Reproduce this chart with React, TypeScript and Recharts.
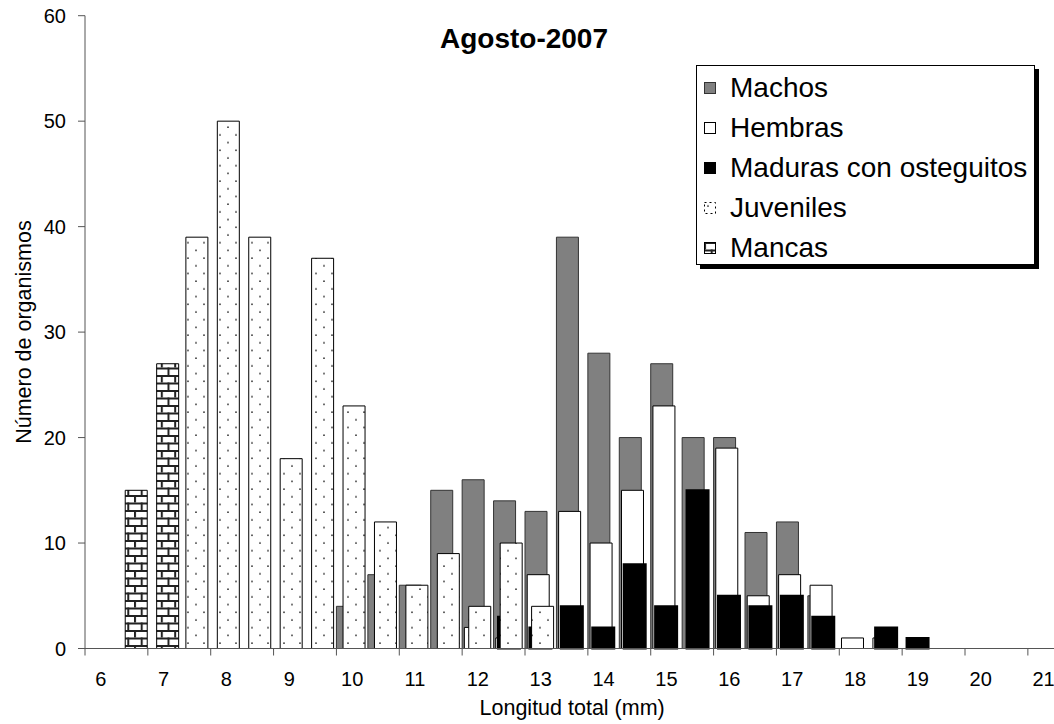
import { Bar, BarChart, Legend, XAxis, YAxis } from 'recharts';

// Length classes (mm), half-millimetre bins
const lengths = [
  '6', '6.5', '7', '7.5', '8', '8.5', '9', '9.5', '10', '10.5', '11', '11.5', '12', '12.5', '13', '13.5',
  '14', '14.5', '15', '15.5', '16', '16.5', '17', '17.5', '18', '18.5', '19', '19.5', '20', '20.5', '21',
];

const machos = [0, 0, 0, 0, 0, 0, 0, 0, 4, 7, 6, 15, 16, 14, 13, 39, 28, 20, 27, 20, 20, 11, 12, 5, 0, 0, 0, 0, 0, 0, 0];
const hembras = [0, 0, 0, 0, 0, 0, 0, 0, 0, 0, 0, 0, 2, 1, 7, 13, 10, 15, 23, 0, 19, 5, 7, 6, 1, 1, 0, 0, 0, 0, 0];
const maduras = [0, 0, 0, 0, 0, 0, 0, 0, 0, 0, 0, 0, 0, 3, 2, 4, 2, 8, 4, 15, 5, 4, 5, 3, 0, 2, 1, 0, 0, 0, 0];
const juveniles = [0, 0, 0, 39, 50, 39, 18, 37, 23, 12, 6, 9, 4, 10, 4, 0, 0, 0, 0, 0, 0, 0, 0, 0, 0, 0, 0, 0, 0, 0, 0];
const mancas = [0, 15, 27, 0, 0, 0, 0, 0, 0, 0, 0, 0, 0, 0, 0, 0, 0, 0, 0, 0, 0, 0, 0, 0, 0, 0, 0, 0, 0, 0, 0];

const yTicks = [0, 10, 20, 30, 40, 50, 60];

const data = lengths.map((longitud, i) => ({
  longitud,
  machos: machos[i],
  hembras: hembras[i],
  maduras: maduras[i],
  juveniles: juveniles[i],
  mancas: mancas[i],
}));

const FONT = '"Liberation Sans", Arial, Helvetica, sans-serif';
const CHART_W = 1080;
const CHART_H = 724;
const PLOT_LEFT = 85;
const PLOT_RIGHT = 1059.3;
const PLOT_TOP = 15.7;
const PLOT_BOTTOM = 648.5;
const BAND = (PLOT_RIGHT - PLOT_LEFT) / lengths.length;
const AXIS_COLOR = '#555';
const TICK_FONT = 20;
const TITLE_FONT = 21.5;

const series = [
  { key: 'machos', name: 'Machos', fill: '#808080', stroke: '#333', strokeWidth: 1 },
  { key: 'hembras', name: 'Hembras', fill: '#ffffff', stroke: '#000', strokeWidth: 1 },
  { key: 'maduras', name: 'Maduras con osteguitos', fill: '#000000', stroke: '#000', strokeWidth: 2 },
  { key: 'juveniles', name: 'Juveniles', fill: 'url(#dots)', stroke: '#000', strokeWidth: 1 },
  { key: 'mancas', name: 'Mancas', fill: 'url(#brick)', stroke: '#000', strokeWidth: 1 },
];

// category ticks: mark on the left edge of the bin, label centred on it
function LengthTick({ x, y, payload }: any) {
  const edge = x - BAND / 2;
  return (
    <g>
      <line x1={edge} x2={edge} y1={y} y2={y + 7} stroke={AXIS_COLOR} strokeWidth={1} />
      <text x={x} y={y + 37} textAnchor="middle" fontSize={TICK_FONT} fill="#000" fontFamily={FONT}>
        {payload.value}
      </text>
    </g>
  );
}

function Swatch({ s }: { s: (typeof series)[number] }) {
  return (
    <svg width={12} height={12} style={{ flex: 'none', marginRight: 14 }}>
      <rect
        x={0.5}
        y={0.5}
        width={11}
        height={11}
        fill={s.fill}
        stroke={s.stroke}
        strokeWidth={1}
        strokeDasharray={s.key === 'juveniles' ? '2 3' : undefined}
      />
    </svg>
  );
}

function LegendBox() {
  return (
    <div
      style={{
        width: 339,
        height: 200,
        boxSizing: 'border-box',
        border: '1px solid #000',
        boxShadow: '4px 4px 0 #000',
        background: '#fff',
        padding: '2px 0 0 7px',
        fontFamily: FONT,
        fontSize: 28,
        color: '#000',
      }}
    >
      {series.map((s) => (
        <div key={s.key} style={{ display: 'flex', alignItems: 'center', height: 40, whiteSpace: 'nowrap' }}>
          <Swatch s={s} />
          <span>{s.name}</span>
        </div>
      ))}
    </div>
  );
}

export default function App() {
  return (
    <div
      style={{
        position: 'fixed',
        left: 0,
        top: 0,
        width: 1054,
        height: 724,
        overflow: 'hidden',
        background: '#fff',
        fontFamily: FONT,
      }}
    >
      <BarChart
        width={CHART_W}
        height={CHART_H}
        data={data}
        margin={{ top: PLOT_TOP, right: CHART_W - PLOT_RIGHT, bottom: 0, left: 0 }}
        barGap={-19.8}
        barCategoryGap={0}
      >
        <defs>
          <pattern id="dots" patternUnits="userSpaceOnUse" width={16} height={15.4}>
            <rect width={16} height={15.4} fill="#fff" />
            <circle cx={4} cy={4} r={0.9} fill="#333" />
            <circle cx={12} cy={11.7} r={0.9} fill="#333" />
          </pattern>
          <pattern id="brick" patternUnits="userSpaceOnUse" width={13.4} height={15}>
            <rect width={13.4} height={15} fill="#fff" />
            <rect x={0} y={0} width={13.4} height={2} fill="#222" />
            <rect x={0} y={7.5} width={13.4} height={2} fill="#222" />
            <rect x={0} y={0} width={2} height={7.5} fill="#222" />
            <rect x={6.7} y={7.5} width={2} height={7.5} fill="#222" />
          </pattern>
        </defs>
        <XAxis
          dataKey="longitud"
          type="category"
          interval={1}
          height={CHART_H - PLOT_BOTTOM}
          tickSize={0}
          tickMargin={0}
          tickLine={false}
          axisLine={{ stroke: AXIS_COLOR, strokeWidth: 1 }}
          tick={<LengthTick />}
          label={{ value: 'Longitud total (mm)', position: 'insideBottom', offset: 9, fontSize: TITLE_FONT, fill: '#000' }}
        />
        <YAxis
          type="number"
          domain={[0, 60]}
          ticks={yTicks}
          width={PLOT_LEFT}
          tickSize={7}
          tickMargin={12}
          axisLine={{ stroke: AXIS_COLOR, strokeWidth: 1 }}
          tickLine={{ stroke: AXIS_COLOR, strokeWidth: 1 }}
          tick={{ fontSize: TICK_FONT, fill: '#000', fontFamily: FONT }}
          label={{
            value: 'Número de organismos',
            angle: -90,
            position: 'insideLeft',
            offset: 23,
            fontSize: TITLE_FONT,
            fill: '#000',
            style: { textAnchor: 'middle' },
          }}
        />
        <Legend
          layout="vertical"
          align="center"
          verticalAlign="middle"
          wrapperStyle={{ left: 696, top: 65, width: 339 }}
          content={() => <LegendBox />}
        />
        {series.map((s) => (
          <Bar
            key={s.key}
            dataKey={s.key}
            name={s.name}
            fill={s.fill}
            stroke={s.stroke}
            strokeWidth={s.strokeWidth}
            barSize={22}
            isAnimationActive={false}
          />
        ))}
      </BarChart>
      <div
        style={{
          position: 'absolute',
          left: 324,
          top: 25,
          width: 400,
          textAlign: 'center',
          fontWeight: 'bold',
          fontSize: 28,
          lineHeight: '28px',
          color: '#000',
        }}
      >
        Agosto-2007
      </div>
    </div>
  );
}
